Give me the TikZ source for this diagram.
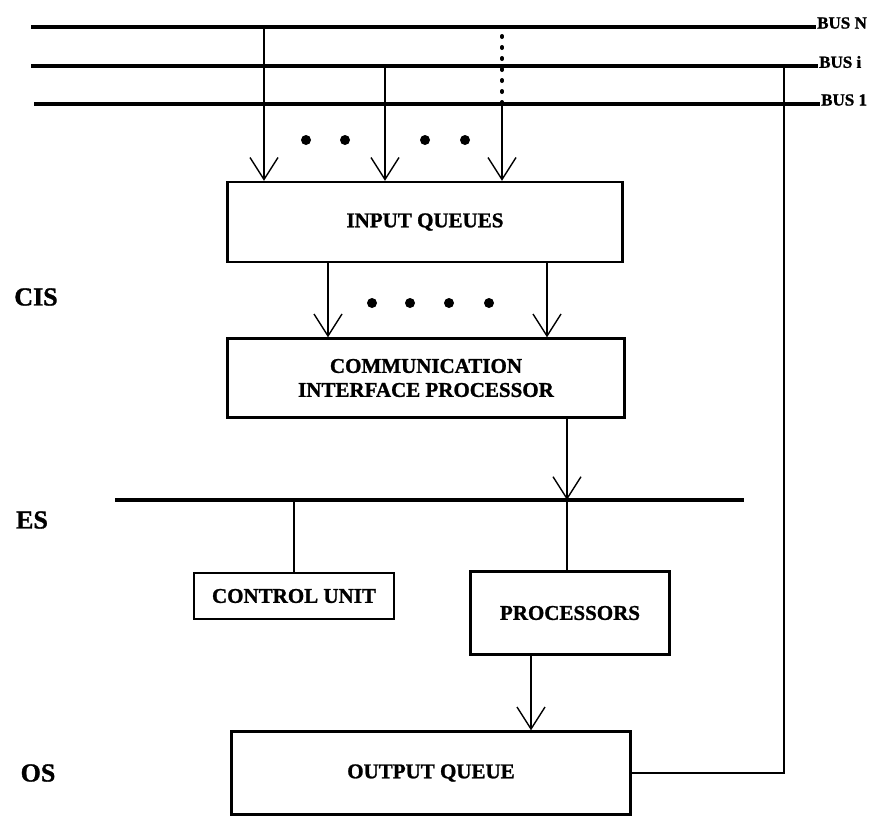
\documentclass[tikz,border=0pt]{standalone}
\usepackage{fontspec}
\setmainfont{Liberation Serif}[BoldFeatures={FakeBold=1.2}]
\usetikzlibrary{arrows.meta}
\begin{document}
\begin{tikzpicture}[x=1pt, y=-1pt, every node/.style={font=\bfseries\fontsize{21}{24}\selectfont},
  blk/.style={draw, line width=2.4pt, align=center, inner sep=0pt},
  bus/.style={line width=3.4pt},
  lnk/.style={line width=1.4pt},
  arr/.style={line width=1.4pt, -{Straight Barb[length=22pt, width=28pt, line width=1.4pt]}},
  lbl/.style={font=\bfseries\fontsize{17}{18}\selectfont, anchor=west, inner sep=1pt},
  side/.style={font=\bfseries\fontsize{26}{30}\selectfont}]
\useasboundingbox (0,0) rectangle (890,817);
% buses
\node[lbl] (bn) at (816,23) {BUS N};
\node[lbl] (bi) at (818,62) {BUS i};
\node[lbl] (b1) at (820,100) {BUS 1};
\coordinate (bnl) at (31,27); \coordinate (bil) at (31,66); \coordinate (b1l) at (34,104);
\draw[bus] (bnl) -- (bnl -| bn.west); \draw[bus] (bil) -- (bil -| bi.west); \draw[bus] (b1l) -- (b1l -| b1.west);
% blocks
\node[blk, minimum width=395pt, minimum height=80pt] (iq) at (425,222) {INPUT QUEUES};
\node[blk, minimum width=397pt, minimum height=79pt] (cip) at (426,378) {COMMUNICATION\\INTERFACE PROCESSOR};
\node[blk, minimum width=200pt, minimum height=46pt] (cu) at (294,596) {CONTROL UNIT};
\node[blk, minimum width=199pt, minimum height=83pt] (pr) at (570,613) {PROCESSORS};
\node[blk, minimum width=399pt, minimum height=83pt] (oq) at (431,773) {OUTPUT QUEUE};
\node[side] (cis) at (36,297) {CIS};
\node[side] (es) at (32,520) {ES};
\node[side] (os) at (38,773) {OS};
% taps into the input queues
\coordinate (t1) at (264,27); \coordinate (t2) at (385,66); \coordinate (t3) at (502,104); \coordinate (t3d) at (502,36);
\draw[arr] (t1) -- (t1 |- iq.north);
\draw[arr] (t2) -- (t2 |- iq.north);
\draw[arr] (t3) -- (t3 |- iq.north);
\draw[line width=4pt, line cap=round, dash pattern=on 1pt off 10pt] (t3d) -- (t3);
\foreach \x in {306,345,425,465} \fill (\x,140) circle (5pt);
% queues to interface processor
\coordinate (q1) at (328,0); \coordinate (q2) at (547,0);
\draw[arr] (iq.south -| q1) -- (cip.north -| q1);
\draw[arr] (iq.south -| q2) -- (cip.north -| q2);
\foreach \x in {372,410,449,489} \fill (\x,303) circle (5pt);
% ES bus
\coordinate (esl) at (115,500); \coordinate (esr) at (744,500); \coordinate (c1) at (567,0);
\draw[bus] (esl) -- (esr);
\draw[arr] (cip.south -| c1) -- (esl -| c1);
\draw[lnk] (esl -| cu.north) -- (cu.north);
\draw[lnk] (esl -| c1) -- (pr.north -| c1);
\coordinate (p1) at (531,0);
\draw[arr] (pr.south -| p1) -- (oq.north -| p1);
% feedback to bus i
\coordinate (fb) at (784,66);
\draw[line width=1.8pt] (oq.east) -| (fb);
\end{tikzpicture}
\end{document}
